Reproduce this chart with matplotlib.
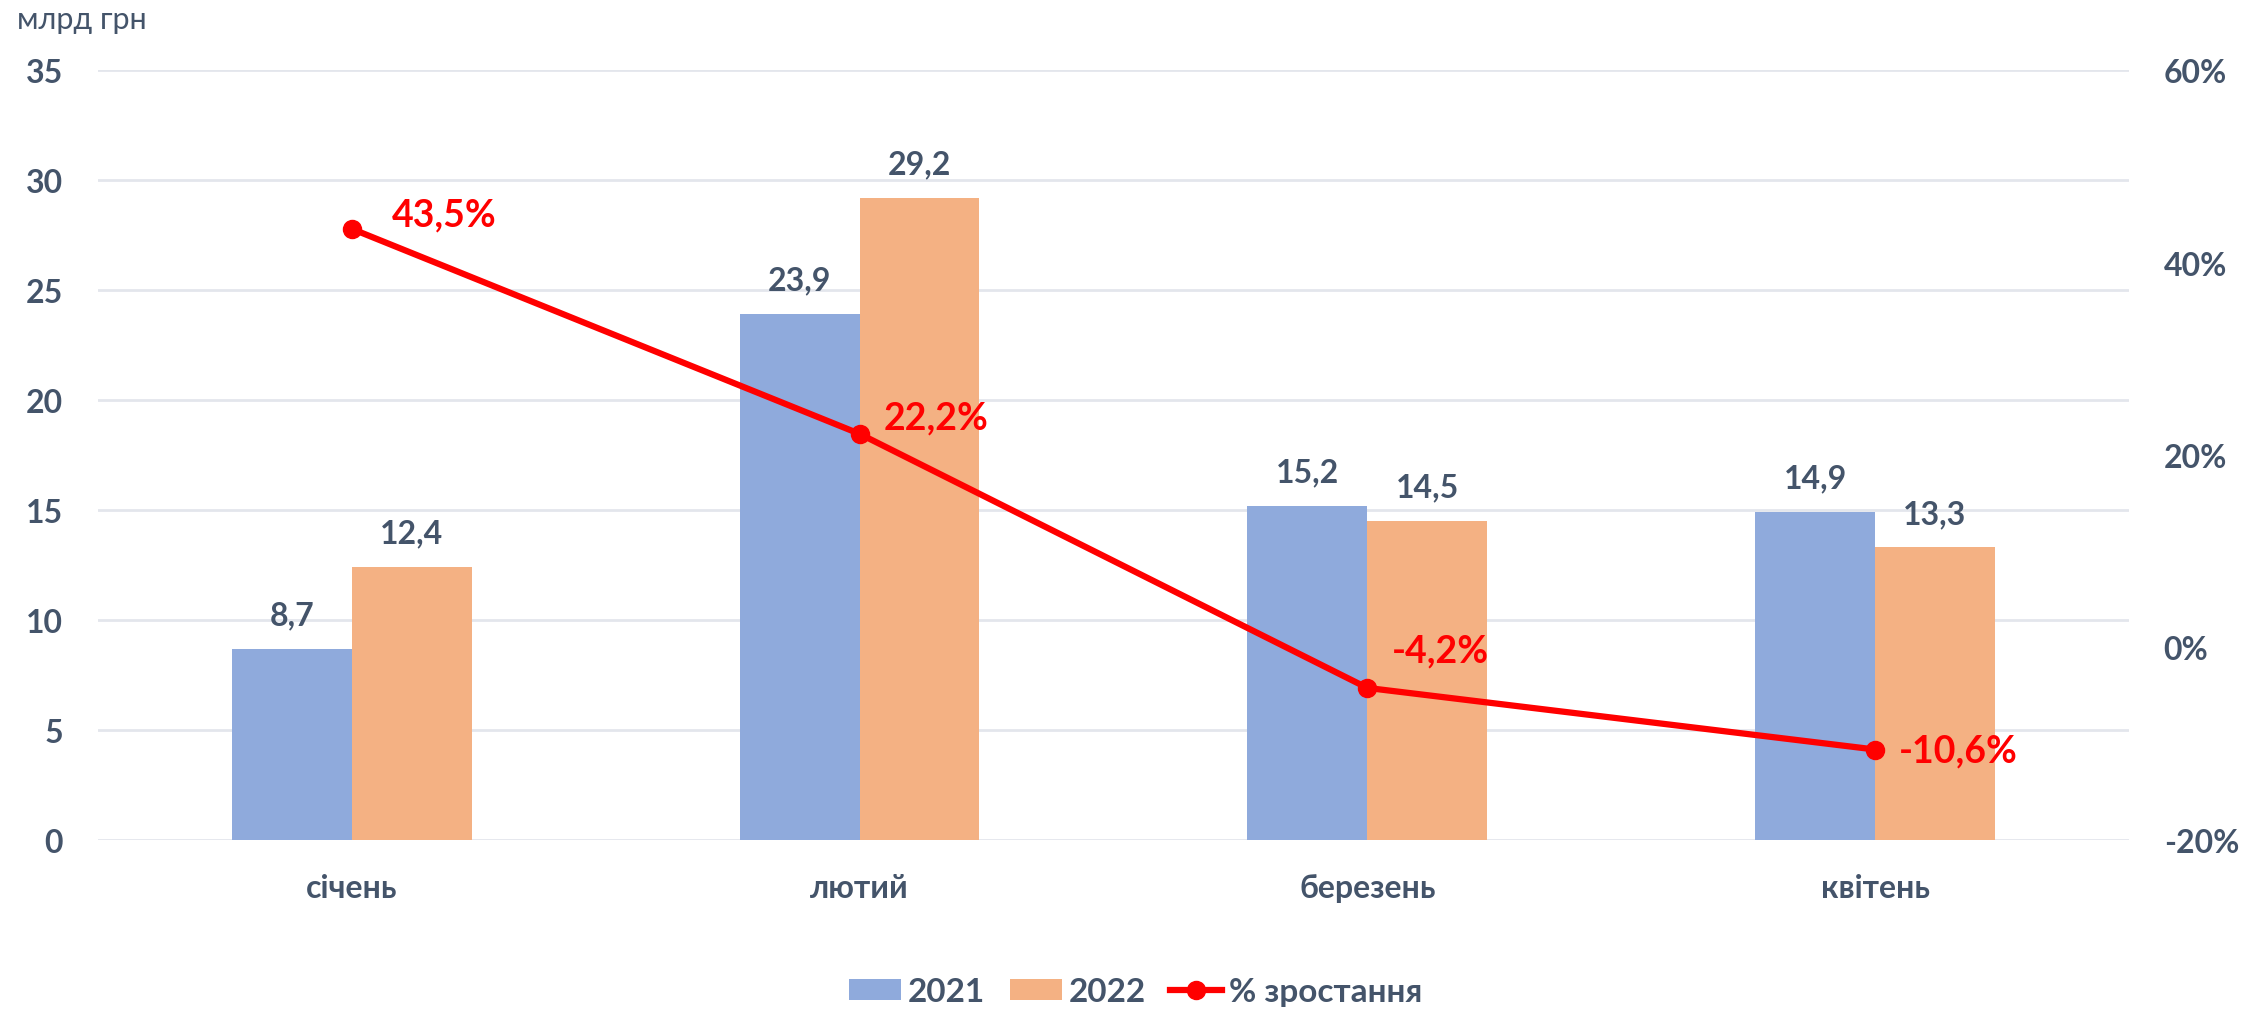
import matplotlib
matplotlib.use("Agg")
import matplotlib.pyplot as plt
from matplotlib.patches import Patch
from matplotlib.lines import Line2D
import numpy as np

plt.rcParams['font.family'] = ['Lato', 'Noto Sans', 'DejaVu Sans']

categories = ["січень", "лютий", "березень", "квітень"]
v2021 = [8.7, 23.9, 15.2, 14.9]
v2022 = [12.4, 29.2, 14.5, 13.3]
growth = [43.5, 22.2, -4.2, -10.6]
left_ticks = [0, 5, 10, 15, 20, 25, 30, 35]
right_ticks = [-20, 0, 20, 40, 60]

TXT = "#44546A"
BLUE = "#8FAADC"
ORANGE = "#F4B183"
RED = "#FF0000"
GRID = "#E3E6EC"

fig = plt.figure(figsize=(22.67, 10.12), dpi=100)
ax = fig.add_axes([0.0432, 0.169, 0.8959, 0.7608])
x = np.arange(len(categories))
w = 0.236

b1 = ax.bar(x - w/2, v2021, w, color=BLUE, zorder=2)
b2 = ax.bar(x + w/2, v2022, w, color=ORANGE, zorder=2)

def fmt(v):
    return f"{v:.1f}".replace(".", ",")

for bars, vals in ((b1, v2021), (b2, v2022)):
    for r, v in zip(bars, vals):
        ax.annotate(fmt(v), (r.get_x() + r.get_width()/2, v), xytext=(0, 14),
                    textcoords="offset points", ha="center", va="bottom",
                    fontsize=23, fontweight="bold", color=TXT, zorder=5)

ax.set_xlim(-0.5, len(categories) - 0.5)
ax.set_ylim(0, 35)
ax.set_yticks(left_ticks)
ax.set_yticklabels([str(t) for t in left_ticks])
ax.set_xticks(x)
ax.set_xticklabels(categories)
ax.yaxis.grid(True, color=GRID, linewidth=2, zorder=0)
ax.set_axisbelow(True)
for s in ax.spines.values():
    s.set_visible(False)
ax.tick_params(axis="both", length=0, labelsize=23, labelcolor=TXT)
ax.tick_params(axis="y", pad=25)
ax.tick_params(axis="x", pad=24)
for lab in ax.get_xticklabels() + ax.get_yticklabels():
    lab.set_fontweight("bold")

ax2 = ax.twinx()
ax2.set_ylim(-20, 60)
ax2.set_yticks(right_ticks)
ax2.set_yticklabels([f"{t}%" for t in right_ticks])
for s in ax2.spines.values():
    s.set_visible(False)
ax2.tick_params(axis="y", length=0, labelsize=23, labelcolor=TXT, pad=25)
for lab in ax2.get_yticklabels():
    lab.set_fontweight("bold")
ax2.plot(x, growth, color=RED, linewidth=4.5, marker="o", markersize=13, zorder=4)

offsets = [(29, 10), (17, 12), (18, 27), (17, -1)]
for xi, g, off in zip(x, growth, offsets):
    ax2.annotate(fmt(g) + "%", (xi, g), xytext=off, textcoords="offset points",
                 ha="left", va="center", fontsize=27, fontweight="bold", color=RED)

fig.text(0.0075, 0.980, "млрд грн", fontsize=22, color=TXT, ha="left", va="center")

handles = [Patch(facecolor=BLUE), Patch(facecolor=ORANGE),
           Line2D([0], [0], color=RED, linewidth=4.5, marker="o", markersize=13)]
leg = fig.legend(handles, ["2021", "2022", "% зростання"], loc="center",
                 bbox_to_anchor=(0.501, 0.019), ncol=3, frameon=False,
                 prop={"size": 24, "weight": "bold"}, handlelength=1.55,
                 handleheight=0.6, handletextpad=0.2, columnspacing=0.75)
for t in leg.get_texts():
    t.set_color(TXT)

fig.savefig("out.png", dpi=100)
